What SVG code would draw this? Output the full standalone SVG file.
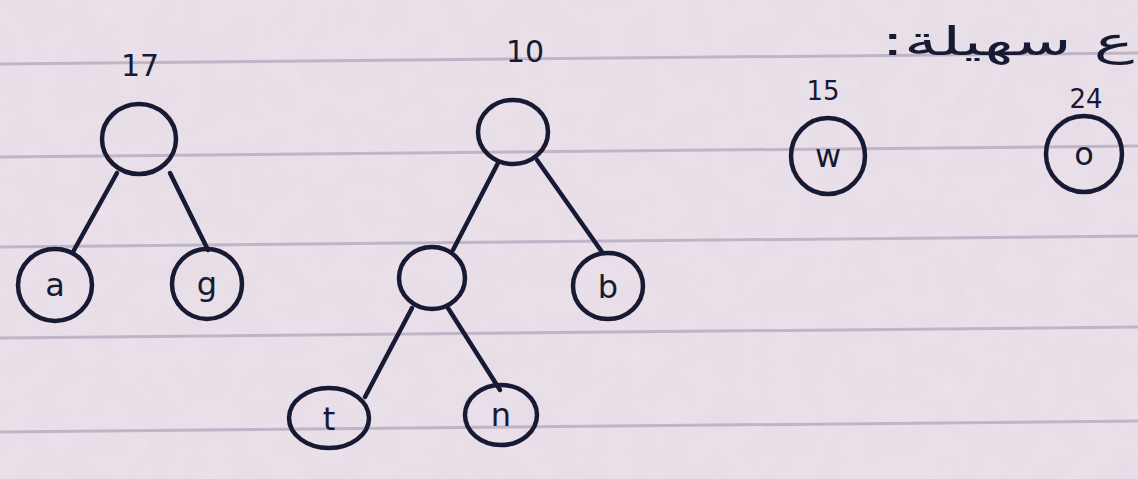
<svg xmlns="http://www.w3.org/2000/svg" width="1138" height="479" viewBox="0 0 1138 479">
  <defs>
    <filter id="grain" x="0" y="0" width="100%" height="100%">
      <feTurbulence type="fractalNoise" baseFrequency="0.035" numOctaves="3" seed="7" result="n"/>
      <feColorMatrix in="n" type="matrix" values="0 0 0 0 0.72  0 0 0 0 0.62  0 0 0 0 0.74  0 0 0 0.35 0"/>
    </filter>
    <style>
      .rule { stroke: #9f93ad; stroke-width: 3; opacity: 0.55; }
      .node { fill: none; stroke: #171a33; stroke-width: 4.5; }
      .edge { stroke: #171a33; stroke-width: 4.5; stroke-linecap: round; }
      .lbl { font-family: "DejaVu Sans", "Liberation Sans", sans-serif; fill: #171a33; text-anchor: middle; }
      .sym { font-size: 32px; }
      .num { font-size: 30px; }
    </style>
  </defs>

  <!-- paper -->
  <rect width="1138" height="479" fill="#ebe2ea"/>
  <rect width="1138" height="479" filter="url(#grain)"/>
  <g id="ruling">
    <line class="rule" x1="0" y1="64" x2="1138" y2="53"/>
    <line class="rule" x1="0" y1="157" x2="1138" y2="146"/>
    <line class="rule" x1="0" y1="247" x2="1138" y2="236"/>
    <line class="rule" x1="0" y1="338" x2="1138" y2="327"/>
    <line class="rule" x1="0" y1="432" x2="1138" y2="421"/>
  </g>

  <!-- connectors -->
  <g id="edges">
    <line class="edge" x1="117" y1="173" x2="73" y2="252"/>
    <line class="edge" x1="170" y1="173" x2="208" y2="250"/>
    <line class="edge" x1="498" y1="163" x2="453" y2="250"/>
    <line class="edge" x1="537" y1="160" x2="602" y2="252"/>
    <line class="edge" x1="412" y1="308" x2="365" y2="397"/>
    <line class="edge" x1="448" y1="308" x2="500" y2="390"/>
  </g>

  <!-- tree with weight 17 -->
  <g id="root17">
    <text class="lbl num" x="140" y="76">17</text>
    <ellipse class="node" cx="139" cy="139" rx="37" ry="35"/>
  </g>
  <g id="leaf-a">
    <ellipse class="node" cx="55" cy="285" rx="37" ry="36"/>
    <text class="lbl sym" x="55" y="296">a</text>
  </g>
  <g id="leaf-g">
    <ellipse class="node" cx="207" cy="284" rx="35" ry="35"/>
    <text class="lbl sym" x="207" y="295">g</text>
  </g>

  <!-- tree with weight 10 -->
  <g id="root10">
    <text class="lbl num" x="525" y="62">10</text>
    <ellipse class="node" cx="513" cy="132" rx="35" ry="32"/>
  </g>
  <g id="inner">
    <ellipse class="node" cx="432" cy="278" rx="33" ry="31"/>
  </g>
  <g id="leaf-b">
    <ellipse class="node" cx="608" cy="286" rx="35" ry="33"/>
    <text class="lbl sym" x="608" y="298">b</text>
  </g>
  <g id="leaf-t">
    <ellipse class="node" cx="329" cy="418" rx="40" ry="30"/>
    <text class="lbl sym" x="329" y="430">t</text>
  </g>
  <g id="leaf-n">
    <ellipse class="node" cx="501" cy="415" rx="36" ry="30"/>
    <text class="lbl sym" x="501" y="426">n</text>
  </g>

  <!-- single-node trees -->
  <g id="caption">
    <text class="lbl" x="1134" y="55" style="font-size:40px;text-anchor:start" direction="rtl" transform="translate(1134 0) scale(1.7 1) translate(-1134 0)">ع سهيلة:</text>
  </g>
  <g id="leaf-w">
    <text class="lbl num" x="823" y="100" style="font-size:26px">15</text>
    <ellipse class="node" cx="828" cy="156" rx="37" ry="38"/>
    <text class="lbl sym" x="828" y="167">w</text>
  </g>
  <g id="leaf-o">
    <text class="lbl num" x="1086" y="108" style="font-size:26px">24</text>
    <ellipse class="node" cx="1084" cy="154" rx="38" ry="38"/>
    <text class="lbl sym" x="1084" y="165">o</text>
  </g>
</svg>
